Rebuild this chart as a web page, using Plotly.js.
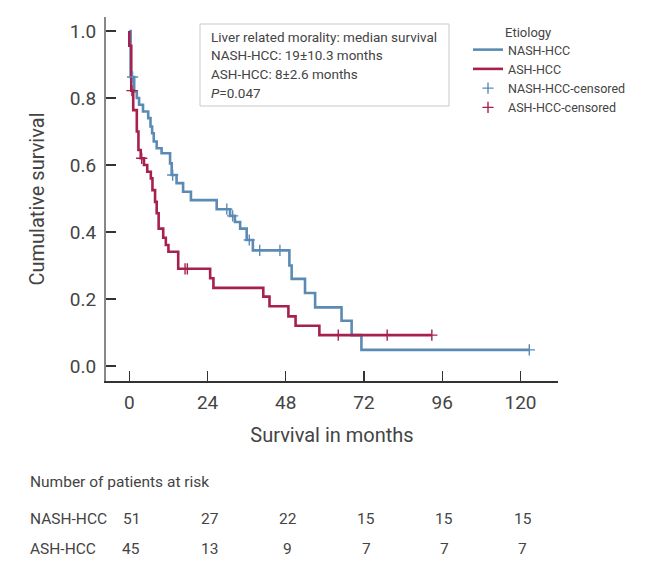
<!DOCTYPE html>
<html>
<head>
<meta charset="utf-8">
<script src="https://cdn.plot.ly/plotly-3.0.1.min.js"></script>
<style>html,body{margin:0;padding:0;background:#fff;}#chart{width:647px;height:572px;}</style>
</head>
<body>
<div id="chart"></div>
<script>
// ---- Data ----
const nashTime = [0, 0.4, 1.5, 2.3, 3.0, 4.2, 5.8, 6.5, 7.0, 7.5, 8.4, 9.9, 12.5, 13.0, 14.5, 16.5, 18.9, 26.8, 30.9, 32.4, 34.0, 36.0, 37.9, 49.1, 49.8, 53.9, 57.0, 65.1, 68.2, 71.2, 122.7];
const nashSurv = [1.0, 0.863, 0.82, 0.80, 0.78, 0.76, 0.74, 0.715, 0.695, 0.67, 0.65, 0.635, 0.605, 0.57, 0.546, 0.52, 0.495, 0.468, 0.448, 0.43, 0.41, 0.376, 0.345, 0.30, 0.26, 0.218, 0.175, 0.135, 0.092, 0.048, 0.048];
const ashTime = [0, 0, 0.6, 1.2, 2.3, 2.8, 3.5, 4.5, 5.5, 6.6, 7.1, 7.9, 8.4, 9.0, 10.4, 11.2, 12.0, 15.0, 24.8, 25.8, 41.1, 43.0, 48.8, 51.0, 58.3, 92.8];
const ashSurv = [1.0, 0.956, 0.822, 0.764, 0.70, 0.645, 0.62, 0.60, 0.58, 0.56, 0.525, 0.49, 0.456, 0.41, 0.383, 0.361, 0.341, 0.29, 0.262, 0.233, 0.207, 0.178, 0.148, 0.12, 0.092, 0.092];
const nashCensored = [1.0, 13.3, 29.9, 31.7, 36.8, 40.0, 46.2, 122.7];
const ashCensored = [0.8, 3.8, 17.1, 17.8, 64.1, 79.1, 92.8];
const xTicks = [0, 24, 48, 72, 96, 120];
const yTicks = [0, 0.2, 0.4, 0.6, 0.8, 1.0];
const yTickText = ['0.0', '0.2', '0.4', '0.6', '0.8', '1.0'];
const riskGroups = ['NASH-HCC', 'ASH-HCC'];
const riskNash = [51, 27, 22, 15, 15, 15];
const riskAsh = [45, 13, 9, 7, 7, 7];
const statLines = ['Liver related morality: median survival', 'NASH-HCC: 19±10.3 months', 'ASH-HCC: 8±2.6 months', '<i>P</i>=0.047'];

// ---- Styling ----
const FONT = 'Roboto, "Open Sans", sans-serif';
const TXT = '#444444';
const BLUE = '#5b8bb5';
const RED = '#a6214e';

// survival value of a step curve at time t (for placing censor marks on the curve)
function stepAt(times, surv, t) {
  let s = surv[0];
  for (let i = 0; i < times.length; i++) { if (times[i] <= t) s = surv[i]; }
  return s;
}

const traces = [
  {x: nashTime, y: nashSurv, type: 'scatter', mode: 'lines', line: {shape: 'hv', color: BLUE, width: 2.6}, name: 'NASH-HCC'},
  {x: ashTime, y: ashSurv, type: 'scatter', mode: 'lines', line: {shape: 'hv', color: RED, width: 2.6}, name: 'ASH-HCC'},
  {x: nashCensored, y: nashCensored.map(t => stepAt(nashTime, nashSurv, t)), type: 'scatter', mode: 'markers',
   marker: {symbol: 'cross-thin-open', size: 8, color: BLUE, line: {color: BLUE, width: 1.4}}, name: 'NASH-HCC-censored'},
  {x: ashCensored, y: ashCensored.map(t => stepAt(ashTime, ashSurv, t)), type: 'scatter', mode: 'markers',
   marker: {symbol: 'cross-thin-open', size: 8, color: RED, line: {color: RED, width: 1.4}}, name: 'ASH-HCC-censored'}
];

// pixel helpers for paper-referenced text (plot area: left 106, top 17, width 452, height 364)
const L = 106, T = 17, W = 452, H = 364;
const px = v => (v - L) / W;
const py = v => (T + H - v) / H;

const annotations = [];
// stats box text
const statY = [37, 55.5, 74, 92.5];
statLines.forEach((s, i) => annotations.push({xref: 'paper', yref: 'paper', x: px(209), y: py(statY[i]), xanchor: 'left', yanchor: 'middle',
  text: s, showarrow: false, font: {family: FONT, size: 13.5, color: TXT}}));
// legend title
annotations.push({xref: 'paper', yref: 'paper', x: px(503), y: py(33), xanchor: 'left', yanchor: 'middle', text: 'Etiology', showarrow: false,
  font: {family: FONT, size: 13, color: TXT}});
// risk table
annotations.push({xref: 'paper', yref: 'paper', x: px(28), y: py(482), xanchor: 'left', yanchor: 'middle', text: 'Number of patients at risk',
  showarrow: false, font: {family: FONT, size: 15.5, color: TXT}});
const rowY = [519, 549];
const rows = [riskNash, riskAsh];
riskGroups.forEach((g, r) => {
  annotations.push({xref: 'paper', yref: 'paper', x: px(28), y: py(rowY[r]), xanchor: 'left', yanchor: 'middle', text: g,
    showarrow: false, font: {family: FONT, size: 15.5, color: TXT}});
  rows[r].forEach((v, i) => annotations.push({xref: 'x', yref: 'paper', x: xTicks[i], y: py(rowY[r]), xanchor: 'center', yanchor: 'middle',
    xshift: 2, text: String(v), showarrow: false, font: {family: FONT, size: 15.5, color: TXT}}));
});

const layout = {
  width: 647, height: 572,
  margin: {l: L, r: 647 - L - W, t: T, b: 572 - T - H, pad: 0},
  paper_bgcolor: '#fff', plot_bgcolor: '#fff',
  font: {family: FONT, color: TXT},
  showlegend: true,
  legend: {x: px(468), y: py(35), xanchor: 'left', yanchor: 'top', bgcolor: 'rgba(0,0,0,0)', borderwidth: 0,
    font: {family: FONT, size: 12.5, color: TXT}, itemwidth: 30, traceorder: 'normal'},
  xaxis: {range: [-7.15, 131.5], tickvals: xTicks, ticks: 'inside', ticklen: 10, tickwidth: 1.2, tickcolor: '#333',
    showline: true, linecolor: '#333', linewidth: 1.5, showgrid: false, zeroline: false, ticklabelstandoff: 4,
    tickfont: {family: FONT, size: 19, color: TXT},
    title: {text: 'Survival in months', font: {family: FONT, size: 20, color: TXT}, standoff: 14}},
  yaxis: {range: [-0.045, 1.042], tickvals: yTicks, ticktext: yTickText, ticks: 'inside', ticklen: 10, tickwidth: 1.2, tickcolor: '#333',
    showline: true, linecolor: '#888', linewidth: 2, showgrid: false, zeroline: false, ticklabelstandoff: 4,
    tickfont: {family: FONT, size: 19, color: TXT},
    title: {text: 'Cumulative survival', font: {family: FONT, size: 20, color: TXT}, standoff: 20}},
  shapes: [{type: 'rect', xref: 'paper', yref: 'paper', x0: px(200), x1: px(449), y0: py(106), y1: py(24),
    line: {color: '#c9c9c9', width: 1}, fillcolor: 'rgba(0,0,0,0)'}],
  annotations: annotations
};

Plotly.newPlot('chart', traces, layout, {displayModeBar: false, staticPlot: true});
</script>
</body>
</html>
